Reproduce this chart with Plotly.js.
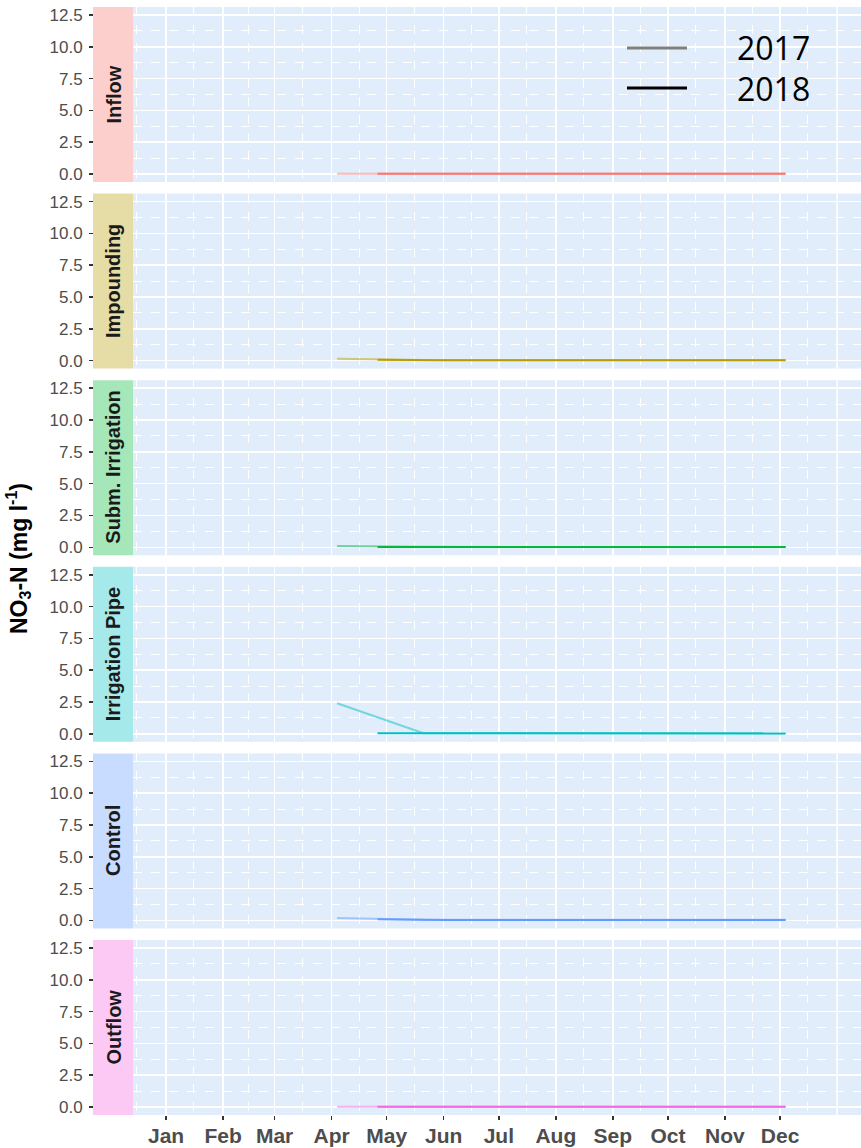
<!DOCTYPE html>
<html>
<head>
<meta charset="utf-8">
<script src="https://cdn.plot.ly/plotly-3.0.1.min.js"></script>
<style>html,body{margin:0;padding:0;background:#fff;}</style>
</head>
<body>
<div id="chart" style="width:861px;height:1148px;"></div>
<script>
// ---- data (dates mapped onto a common display year) ----
const sites = ["Inflow", "Impounding", "Subm. Irrigation", "Irrigation Pipe", "Control", "Outflow"];
const siteColors = ["#F8766D", "#B79F00", "#00BA38", "#00BFC4", "#619CFF", "#F564E3"];
const stripColors = ["rgba(248,118,109,0.35)", "rgba(183,159,0,0.35)", "rgba(0,186,56,0.35)", "rgba(0,191,196,0.35)", "rgba(97,156,255,0.35)", "rgba(245,100,227,0.35)"];

const dates2017 = ["2018-04-04", "2018-04-26", "2018-05-21", "2018-12-04"];
const dates2018 = ["2018-04-26", "2018-06-01", "2018-12-04"];

const inflow2017 = [0.02, 0.02, 0.02, 0.02];
const inflow2018 = [0.02, 0.02, 0.02];
const impounding2017 = [0.15, 0.1, 0.05, 0.05];
const impounding2018 = [0.08, 0.03, 0.03];
const submIrr2017 = [0.1, 0.08, 0.03, 0.02];
const submIrr2018 = [0.02, 0.02, 0.02];
const irrPipe2017 = [2.4, 1.3, 0.05, 0.05];
const irrPipe2018 = [0.05, 0.04, 0.03];
const control2017 = [0.2, 0.12, 0.05, 0.05];
const control2018 = [0.1, 0.03, 0.03];
const outflow2017 = [0.03, 0.03, 0.03, 0.03];
const outflow2018 = [0.03, 0.03, 0.03];

const values2017 = [inflow2017, impounding2017, submIrr2017, irrPipe2017, control2017, outflow2017];
const values2018 = [inflow2018, impounding2018, submIrr2018, irrPipe2018, control2018, outflow2018];

const monthTicks = ["2018-01-01","2018-02-01","2018-03-01","2018-04-01","2018-05-01","2018-06-01","2018-07-01","2018-08-01","2018-09-01","2018-10-01","2018-11-01","2018-12-01"];
const monthLabels = ["Jan","Feb","Mar","Apr","May","Jun","Jul","Aug","Sep","Oct","Nov","Dec"];
const nextYearGrid = "2019-01-01";
const minorTicks = ["2017-12-16","2018-01-16","2018-02-15","2018-03-16","2018-04-16","2018-05-16","2018-06-16","2018-07-16","2018-08-16","2018-09-16","2018-10-16","2018-11-16","2018-12-16"];
const yTicks = [0, 2.5, 5, 7.5, 10, 12.5];
const yLabels = ["0.0", "2.5", "5.0", "7.5", "10.0", "12.5"];
const yMinor = [1.25, 3.75, 6.25, 8.75, 11.25];

// ---- layout geometry ----
const W = 861, H = 1148;
const mL = 93, mR = 0, mT = 7, mB = 33;
const plotW = W - mL - mR, plotH = H - mT - mB;
const stripW = 40;
const panelH = 175, pitch = 186.6;
const xDomStart = stripW / plotW;

const traces = [];
const layout = {
  width: W, height: H,
  margin: {l: mL, r: mR, t: mT, b: mB, pad: 0},
  paper_bgcolor: "#ffffff",
  plot_bgcolor: "#e2edfc",
  showlegend: false,
  font: {family: "Liberation Sans, Arial, sans-serif", color: "#4d4d4d"},
  shapes: [],
  annotations: []
};

for (let i = 0; i < sites.length; i++) {
  const sfx = i === 0 ? "" : String(i + 1);
  const xa = "x" + sfx, ya = "y" + sfx;
  const top = 1 - (i * pitch) / plotH;
  const bot = 1 - (i * pitch + panelH) / plotH;

  traces.push({
    x: dates2017, y: values2017[i], xaxis: xa, yaxis: ya,
    type: "scatter", mode: "lines", opacity: 0.5,
    line: {color: siteColors[i], width: 2}, hoverinfo: "skip"
  });
  traces.push({
    x: dates2018, y: values2018[i], xaxis: xa, yaxis: ya,
    type: "scatter", mode: "lines",
    line: {color: siteColors[i], width: 2}, hoverinfo: "skip"
  });

  const isBottom = i === sites.length - 1;
  layout["xaxis" + sfx] = {
    type: "date",
    domain: [xDomStart, 1],
    anchor: ya,
    range: ["2017-12-14", "2019-01-14"],
    tickmode: "array",
    tickvals: monthTicks,
    ticktext: monthLabels,
    showticklabels: isBottom,
    ticks: isBottom ? "outside" : "",
    ticklen: 4, tickwidth: 1.5, tickcolor: "#333333",
    ticklabelstandoff: -2,
    tickfont: {size: 21, color: "#4d4d4d", family: "Liberation Sans, Arial, sans-serif", weight: "bold"},
    showgrid: true, gridcolor: "#ffffff", gridwidth: 1.5,
    minor: {tickmode: "array", tickvals: minorTicks, showgrid: true, gridcolor: "#ffffff", gridwidth: 1, griddash: "dash", ticks: ""},
    zeroline: false, showline: false,
    matches: i === 0 ? undefined : "x"
  };
  layout["yaxis" + sfx] = {
    domain: [bot, top],
    anchor: "free", position: 0,
    range: [-0.625, 13.125],
    tickmode: "array", tickvals: yTicks, ticktext: yLabels,
    ticks: "outside", ticklen: 4, tickwidth: 1.5, tickcolor: "#333333",
    ticklabelstandoff: 3,
    tickfont: {size: 17, color: "#4d4d4d"},
    showgrid: true, gridcolor: "#ffffff", gridwidth: 1.5,
    minor: {tickmode: "array", tickvals: yMinor, showgrid: true, gridcolor: "#ffffff", gridwidth: 1, griddash: "dash", ticks: ""},
    zeroline: false, showline: false, fixedrange: true
  };

  // major gridline at the start of the following year (no tick label)
  layout.shapes.push({
    type: "line", xref: xa, yref: ya + " domain",
    x0: nextYearGrid, x1: nextYearGrid, y0: 0, y1: 1,
    line: {color: "#ffffff", width: 1.5}, layer: "below"
  });

  // facet strip
  layout.shapes.push({
    type: "rect", xref: "paper", yref: ya + " domain",
    x0: 0, x1: xDomStart, y0: 0, y1: 1,
    fillcolor: stripColors[i], line: {width: 0}, layer: "below"
  });
  layout.annotations.push({
    text: "<b>" + sites[i] + "</b>",
    xref: "paper", yref: ya + " domain",
    x: xDomStart / 2, y: 0.5, xanchor: "center", yanchor: "middle",
    textangle: -90, showarrow: false,
    font: {size: 20, color: "#1a1a1a", family: "Liberation Sans, Arial, sans-serif"}
  });
}

// y-axis title
layout.annotations.push({
  text: "<b>NO<sub>3</sub>-N (mg l<sup>-1</sup>)</b>",
  xref: "paper", yref: "paper",
  x: (18 - mL) / plotW, y: 1 - (559 - mT) / plotH,
  xanchor: "center", yanchor: "middle",
  textangle: -90, showarrow: false,
  font: {size: 23, color: "#000000", family: "Liberation Sans, Arial, sans-serif"}
});

// legend (drawn manually to match the reference's key)
const legendYears = ["2017", "2018"];
const legendColors = ["#7f7f7f", "#000000"];
const legendRowsPx = [48, 88];
for (let k = 0; k < legendYears.length; k++) {
  const yp = 1 - (legendRowsPx[k] - mT) / plotH;
  layout.shapes.push({
    type: "line", xref: "paper", yref: "paper",
    x0: (627 - mL) / plotW, x1: (687 - mL) / plotW, y0: yp, y1: yp,
    line: {color: legendColors[k], width: 3}
  });
  layout.annotations.push({
    text: legendYears[k], xref: "paper", yref: "paper",
    x: (735 - mL) / plotW, y: yp, xanchor: "left", yanchor: "middle",
    showarrow: false,
    font: {size: 32, color: "#000000", family: "Open Sans, Noto Sans, sans-serif"}
  });
}

Plotly.newPlot("chart", traces, layout, {displayModeBar: false, staticPlot: true});
</script>
</body>
</html>
